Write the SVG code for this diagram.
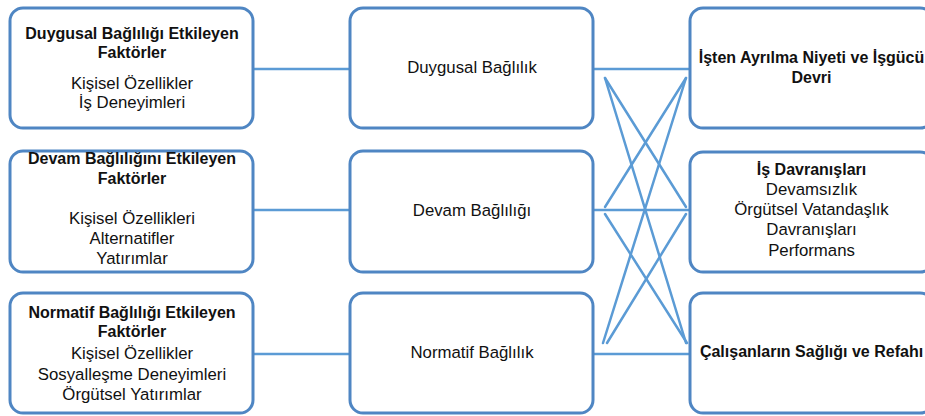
<svg xmlns="http://www.w3.org/2000/svg" width="925" height="416" viewBox="0 0 925 416">
<style>
.box{fill:#ffffff;stroke:#4F86C3;stroke-width:3}
.t{font-family:"Liberation Sans",Arial,sans-serif;font-size:16.8px;fill:#111111;text-anchor:middle}
.b{font-weight:bold;font-size:16px}
.c{stroke:#5B9BD5;stroke-width:2.5;fill:none;stroke-linecap:round}
</style>
<rect width="925" height="416" fill="#ffffff"/>
<g id="connectors">
<line class="c" x1="253" y1="69" x2="350" y2="69"/>
<line class="c" x1="253" y1="210" x2="350" y2="210"/>
<line class="c" x1="253" y1="354" x2="350" y2="354"/>
<line class="c" x1="593" y1="69" x2="690" y2="69"/>
<line class="c" x1="593" y1="210" x2="690" y2="210"/>
<line class="c" x1="593" y1="354" x2="690" y2="354"/>
<line class="c" x1="605" y1="78" x2="686" y2="207"/>
<line class="c" x1="605" y1="78" x2="686" y2="343"/>
<line class="c" x1="686" y1="78" x2="605" y2="207"/>
<line class="c" x1="686" y1="78" x2="603" y2="343"/>
<line class="c" x1="605" y1="214" x2="687" y2="343"/>
<line class="c" x1="686" y1="214" x2="607" y2="343"/>
</g>
<g id="n1">
<rect class="box" x="10" y="8" width="243" height="120" rx="13"/>
<text class="t b" x="132" y="39">Duygusal Bağlılığı Etkileyen</text>
<text class="t b" x="132" y="58">Faktörler</text>
<text class="t" x="132" y="89">Kişisel Özellikler</text>
<text class="t" x="132" y="108">İş Deneyimleri</text>
</g>
<g id="n2">
<rect class="box" x="10" y="151" width="243" height="121" rx="13"/>
<text class="t b" x="132" y="164">Devam Bağlılığını Etkileyen</text>
<text class="t b" x="132" y="184">Faktörler</text>
<text class="t" x="132" y="224">Kişisel Özellikleri</text>
<text class="t" x="132" y="244">Alternatifler</text>
<text class="t" x="132" y="264">Yatırımlar</text>
</g>
<g id="n3">
<rect class="box" x="10" y="293" width="243" height="120" rx="13"/>
<text class="t b" x="132" y="318">Normatif Bağlılığı Etkileyen</text>
<text class="t b" x="132" y="337">Faktörler</text>
<text class="t" x="132" y="359">Kişisel Özellikler</text>
<text class="t" x="132" y="380">Sosyalleşme Deneyimleri</text>
<text class="t" x="132" y="400">Örgütsel Yatırımlar</text>
</g>
<g id="m1">
<rect class="box" x="350" y="8" width="243" height="120" rx="13"/>
<text class="t" x="472" y="73">Duygusal Bağlılık</text>
</g>
<g id="m2">
<rect class="box" x="350" y="151" width="243" height="121" rx="13"/>
<text class="t" x="472" y="216">Devam Bağlılığı</text>
</g>
<g id="m3">
<rect class="box" x="350" y="293" width="243" height="120" rx="13"/>
<text class="t" x="472" y="358">Normatif Bağlılık</text>
</g>
<g id="r1">
<rect class="box" x="690" y="8" width="243" height="120" rx="13"/>
<text class="t b" x="811.5" y="63">İşten Ayrılma Niyeti ve İşgücü</text>
<text class="t b" x="811.5" y="83">Devri</text>
</g>
<g id="r2">
<rect class="box" x="690" y="152" width="243" height="120" rx="13"/>
<text class="t b" x="811.5" y="175">İş Davranışları</text>
<text class="t" x="811.5" y="195">Devamsızlık</text>
<text class="t" x="811.5" y="215">Örgütsel Vatandaşlık</text>
<text class="t" x="811.5" y="235">Davranışları</text>
<text class="t" x="811.5" y="256">Performans</text>
</g>
<g id="r3">
<rect class="box" x="690" y="293" width="243" height="120" rx="13"/>
<text class="t b" x="811.5" y="357">Çalışanların Sağlığı ve Refahı</text>
</g>
</svg>
